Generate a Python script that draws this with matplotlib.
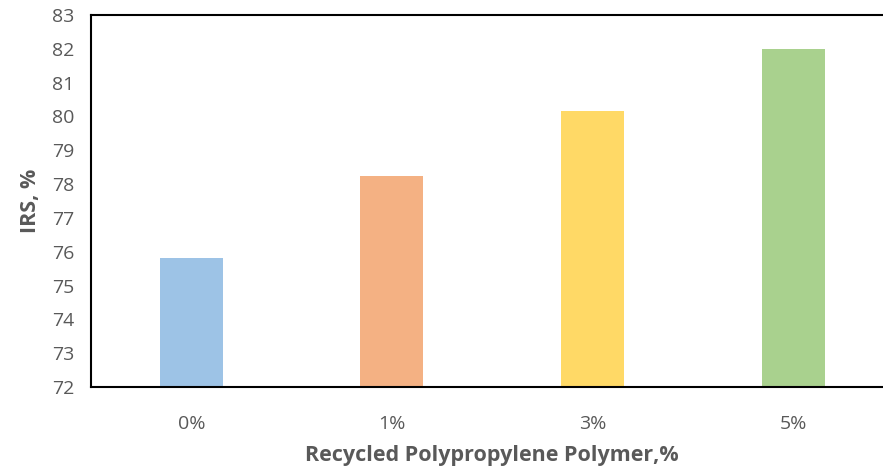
import matplotlib
matplotlib.use("Agg")
import matplotlib.pyplot as plt

categories = ["0%", "1%", "3%", "5%"]
irs_values = [75.82, 78.24, 80.16, 82.0]
bar_colors = ["#9DC3E6", "#F4B183", "#FFD966", "#A9D18E"]

plt.rcParams['font.family'] = ['Open Sans', 'DejaVu Sans']

fig = plt.figure(figsize=(8.83, 4.67), dpi=100)
ax = fig.add_axes([91/883, 80/467, 802.5/883, 372/467])

x = list(range(len(categories)))
ax.bar(x, [v - 72 for v in irs_values], bottom=72, width=0.314, color=bar_colors)

ax.set_xlim(-0.5, 3.5)
ax.set_ylim(72, 83)
ax.set_yticks(range(72, 84))
ax.set_xticks(x)
ax.set_xticklabels(categories)
ax.tick_params(axis='both', length=0, colors='#595959', labelsize=14)
ax.tick_params(axis='y', pad=12)
ax.tick_params(axis='x', pad=20)

for s in ['left', 'bottom', 'top', 'right']:
    ax.spines[s].set_color('black')
    ax.spines[s].set_linewidth(1.5)

ax.set_xlabel("Recycled Polypropylene Polymer,%", fontsize=15.5, fontweight='bold',
              color='#595959', labelpad=9)
ax.set_ylabel("IRS, %", fontsize=15.5, fontweight='bold', color='#595959', labelpad=8)

fig.savefig("out.png", dpi=100)
